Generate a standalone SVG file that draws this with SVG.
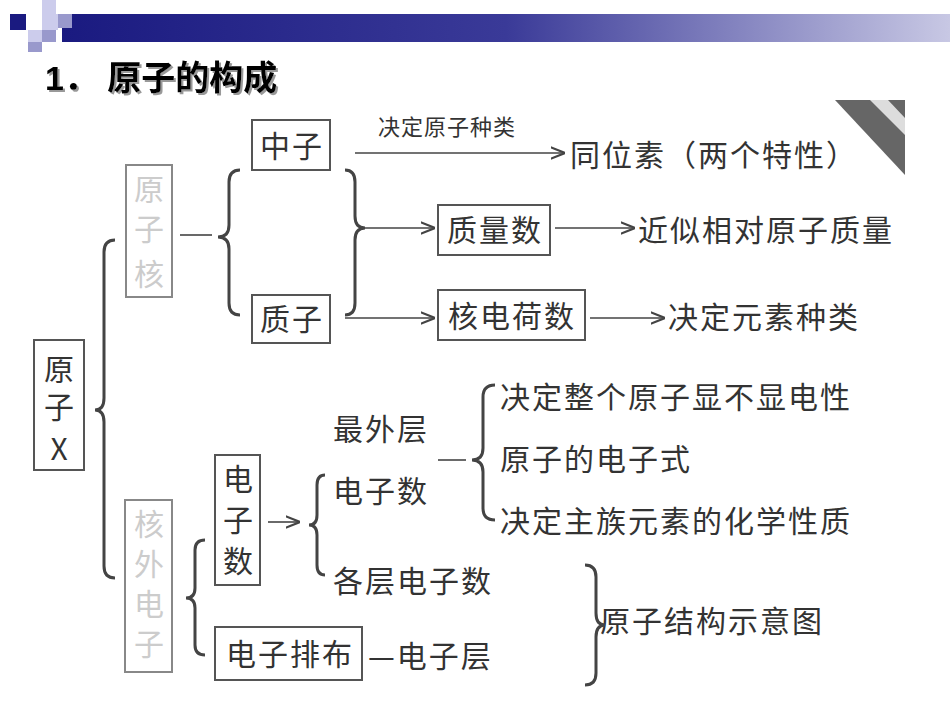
<svg xmlns="http://www.w3.org/2000/svg" width="950" height="713" viewBox="0 0 950 713">
<defs>
<linearGradient id="bar" x1="0" x2="1"><stop offset="0" stop-color="#1a1a80"/><stop offset="0.5" stop-color="#3a3a98"/><stop offset="1" stop-color="#c8c8e4"/></linearGradient>
<marker id="ar" viewBox="0 0 10 10" refX="10" refY="5" markerWidth="9" markerHeight="9" orient="auto"><path d="M0,1 L10,5 L0,9" fill="none" stroke="#444" stroke-width="1.5"/></marker>
<filter id="sh" x="-5%" y="-20%" width="110%" height="140%"><feDropShadow dx="2" dy="2" stdDeviation="0.5" flood-color="#999"/></filter>
</defs>
<style>
.t{font-family:"Noto Sans CJK SC","Liberation Serif",serif;font-size:30px;fill:#333;letter-spacing:2px}
.s{font-size:22px;letter-spacing:1px}
.f{fill:#ccc}
.b{fill:none;stroke:#555;stroke-width:2}
.br{fill:none;stroke:#444;stroke-width:3}
.c{stroke:#444;stroke-width:1.6;fill:none}
</style>
<rect width="950" height="713" fill="#fff"/>
<g id="header">
<rect x="62" y="14" width="888" height="28" fill="url(#bar)"/>
<rect x="10" y="14" width="16" height="16" fill="#1a1a80"/>
<rect x="42" y="0" width="14" height="14" fill="#ccccec"/>
<rect x="42" y="14" width="16" height="16" fill="#ccccec"/>
<rect x="58" y="14" width="14" height="14" fill="#9999cc"/>
<rect x="28" y="30" width="14" height="12" fill="#ccccec"/>
<rect x="42" y="30" width="14" height="12" fill="#9999cc"/>
<rect x="28" y="42" width="14" height="10" fill="#9999cc"/>
<text x="45" y="90" font-family="Liberation Sans,Noto Sans CJK SC,sans-serif" font-size="34" font-weight="bold" fill="#000" filter="url(#sh)">1． 原子的构成</text>
</g>
<g id="deco"><path d="M835,100 L905,100 L905,175 Z" fill="#666"/><path d="M870,100 L888,100 L905,118 L905,135 Z" fill="#ddd"/></g>
<g id="atom"><rect x="34" y="340" width="50" height="130" class="b"/><text class="t" x="60" y="380" text-anchor="middle">原</text><text class="t" x="60" y="418" text-anchor="middle">子</text><text class="t" x="60" y="460" text-anchor="middle" font-family="Liberation Serif,serif">X</text></g>
<g id="nucleus"><rect x="126" y="165" width="46" height="132" fill="none" stroke="#888" stroke-width="2"/><text class="t f" x="150" y="200" text-anchor="middle">原</text><text class="t f" x="150" y="240" text-anchor="middle">子</text><text class="t f" x="150" y="285" text-anchor="middle">核</text></g>
<g id="neutron"><rect x="252" y="120" width="78" height="50" class="b"/><text class="t" x="292" y="157" text-anchor="middle">中子</text></g>
<g id="proton"><rect x="252" y="295" width="78" height="48" class="b"/><text class="t" x="292" y="330" text-anchor="middle">质子</text></g>
<g id="mass"><rect x="438" y="205" width="112" height="50" class="b"/><text class="t" x="495" y="241" text-anchor="middle">质量数</text></g>
<g id="charge"><rect x="438" y="290" width="147" height="50" class="b"/><text class="t" x="512" y="327" text-anchor="middle">核电荷数</text></g>
<g id="isotope"><text class="t" x="570" y="166">同位素（两个特性）</text></g>
<g id="relmass"><text class="t" x="638" y="241">近似相对原子质量</text></g>
<g id="element"><text class="t" x="668" y="328">决定元素种类</text></g>
<g id="shell"><rect x="125" y="500" width="47" height="172" fill="none" stroke="#888" stroke-width="2"/><text class="t f" x="150" y="535" text-anchor="middle">核</text><text class="t f" x="150" y="575" text-anchor="middle">外</text><text class="t f" x="150" y="615" text-anchor="middle">电</text><text class="t f" x="150" y="655" text-anchor="middle">子</text></g>
<g id="ecount"><rect x="215" y="455" width="45" height="130" class="b"/><text class="t" x="239" y="490" text-anchor="middle">电</text><text class="t" x="239" y="531" text-anchor="middle">子</text><text class="t" x="239" y="572" text-anchor="middle">数</text></g>
<g id="outer"><text class="t" x="333" y="440">最外层</text><text class="t" x="333" y="502">电子数</text></g>
<g id="l1"><text class="t" x="500" y="408">决定整个原子显不显电性</text></g>
<g id="l2"><text class="t" x="500" y="470">原子的电子式</text></g>
<g id="l3"><text class="t" x="500" y="532">决定主族元素的化学性质</text></g>
<g id="layers"><text class="t" x="333" y="592">各层电子数</text></g>
<g id="diagram"><text class="t" x="600" y="632">原子结构示意图</text></g>
<g id="arrange"><rect x="215" y="627" width="147" height="53" class="b"/><text class="t" x="290" y="665" text-anchor="middle">电子排布</text></g>
<g id="elayer"><text class="t" x="368" y="667">—电子层</text></g>
<g id="connectors">
<path class="br" d="M115,240 Q104,240 104,252 L104,398 Q104,410 95,410 Q104,410 104,422 L104,566 Q104,578 115,578"/>
<line class="c" x1="180" y1="235" x2="212" y2="235"/>
<path class="br" d="M240,170 Q229,170 229,182 L229,225 Q229,237 218,237 Q229,237 229,249 L229,303 Q229,315 240,315"/>
<path class="br" d="M345,170 Q355,170 355,182 L355,216 Q355,228 365,228 Q355,228 355,240 L355,303 Q355,315 345,315"/>
<line class="c" x1="355" y1="153" x2="565" y2="153" marker-end="url(#ar)"/>
<text class="t s" x="378" y="135">决定原子种类</text>
<line class="c" x1="365" y1="228" x2="435" y2="228" marker-end="url(#ar)"/>
<line class="c" x1="555" y1="228" x2="635" y2="228" marker-end="url(#ar)"/>
<line class="c" x1="345" y1="318" x2="435" y2="318" marker-end="url(#ar)"/>
<line class="c" x1="590" y1="318" x2="665" y2="318" marker-end="url(#ar)"/>
<path class="br" d="M205,540 Q195,540 195,550 L195,588 Q195,598 186,598 Q195,598 195,608 L195,645 Q195,655 205,655"/>
<line class="c" x1="268" y1="522" x2="300" y2="522" marker-end="url(#ar)"/>
<path class="br" d="M325,475 Q317,475 317,485 L317,515 Q317,525 309,525 Q317,525 317,535 L317,565 Q317,575 325,575"/>
<line class="c" x1="438" y1="460" x2="466" y2="460"/>
<path class="br" d="M495,385 Q483,385 483,397 L483,448 Q483,460 472,460 Q483,460 483,472 L483,508 Q483,520 495,520"/>
<path class="br" d="M585,565 Q596,565 596,577 L596,613 Q596,625 605,625 Q596,625 596,637 L596,673 Q596,685 585,685"/>
</g>
</svg>
